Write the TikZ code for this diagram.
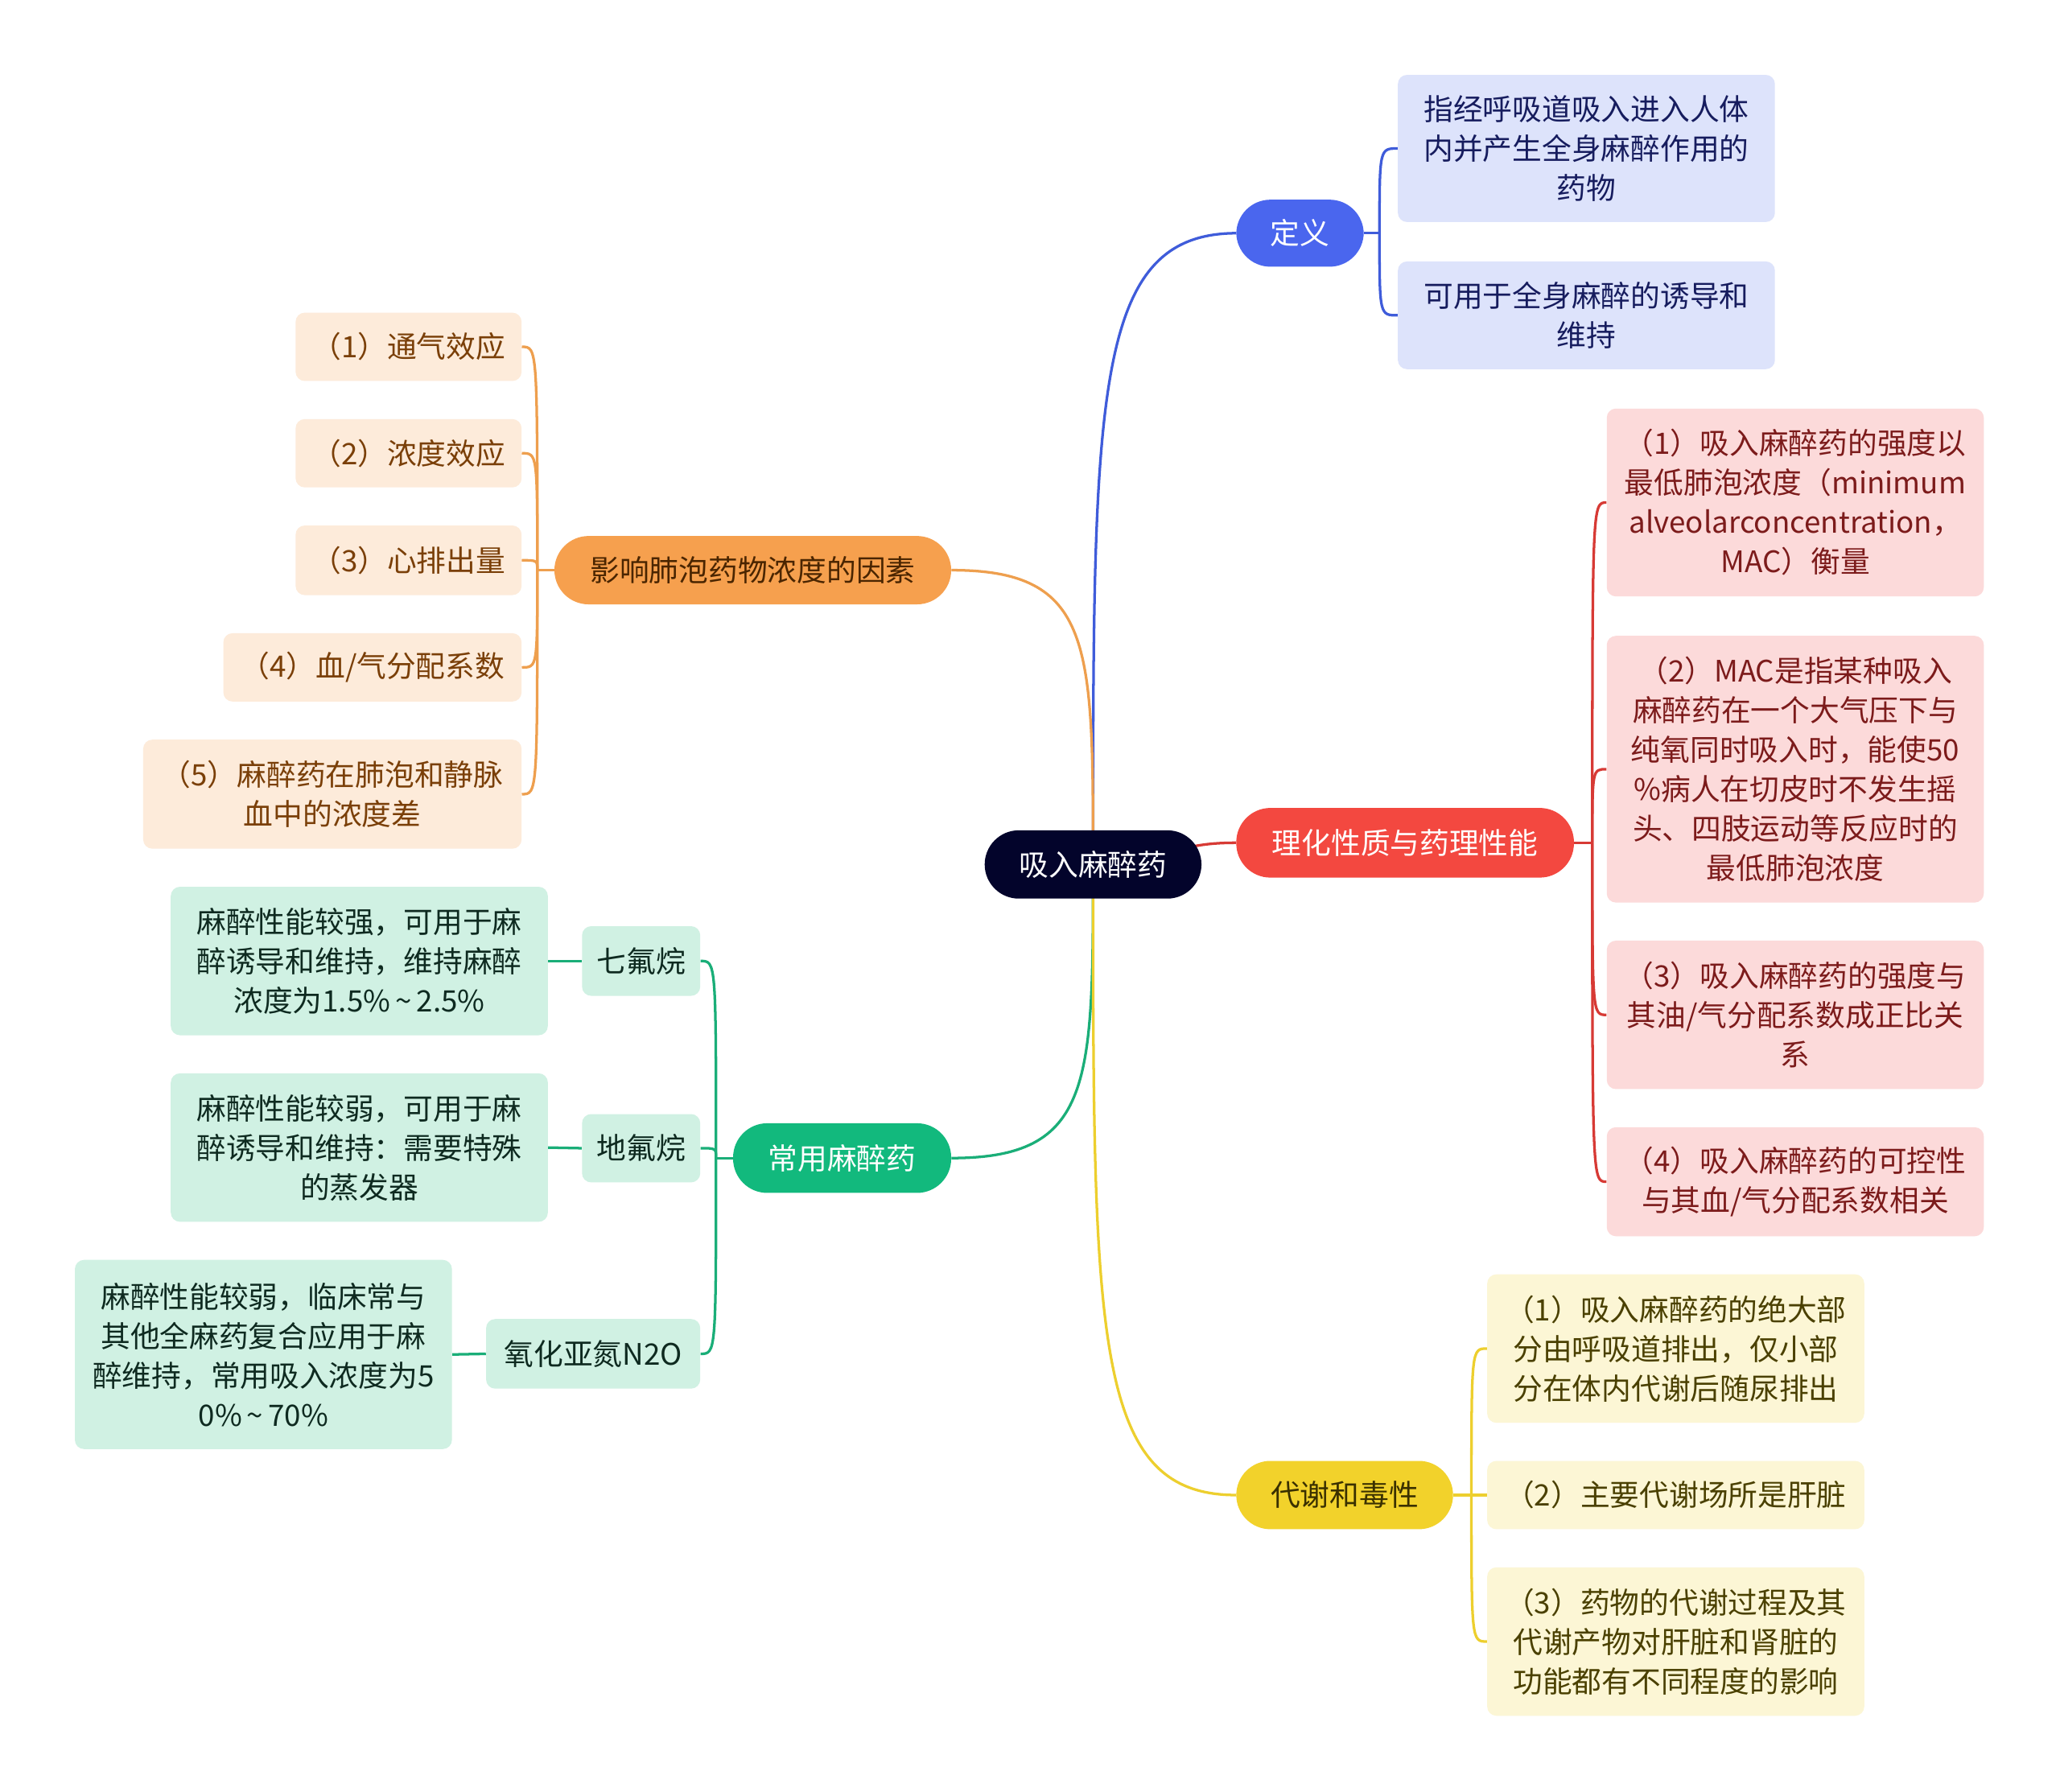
\documentclass[tikz,border=0pt]{standalone}
\usepackage{fontspec}
\setmainfont{Noto Sans CJK SC}
\usetikzlibrary{backgrounds}
\definecolor{rootc}{HTML}{03042B}
\definecolor{bluec}{HTML}{4A66EE}
\definecolor{bluel}{HTML}{3F5CDA}
\definecolor{bluef}{HTML}{DDE3FB}
\definecolor{bluet}{HTML}{161C5E}
\definecolor{redc}{HTML}{F34840}
\definecolor{redl}{HTML}{D73A35}
\definecolor{redf}{HTML}{FCDADA}
\definecolor{redt}{HTML}{7C1B1B}
\definecolor{orac}{HTML}{F6A04E}
\definecolor{oral}{HTML}{EE9F4E}
\definecolor{oraf}{HTML}{FDEBDA}
\definecolor{orat}{HTML}{7A3F08}
\definecolor{oranode}{HTML}{4A2500}
\definecolor{grec}{HTML}{12B97D}
\definecolor{grel}{HTML}{1AAE78}
\definecolor{gref}{HTML}{D0F1E3}
\definecolor{gret}{HTML}{0E2A20}
\definecolor{yelc}{HTML}{F2D22B}
\definecolor{yell}{HTML}{EDCF2E}
\definecolor{yelf}{HTML}{FCF6D5}
\definecolor{yelt}{HTML}{4A4000}
\definecolor{yelnode}{HTML}{3A3000}
\begin{document}
\begin{tikzpicture}[x=1pt,y=-1pt,
  font=\fontsize{22.5}{30}\selectfont,
  base/.style={inner sep=0pt, align=center, anchor=center},
  mainn/.style={base, rounded corners=26pt},
  leaf/.style={base, rounded corners=7pt},
  conn/.style={line width=2pt}]
\useasboundingbox (0,0) rectangle (1568,1364);

% root
\node[mainn, fill=rootc, text=white, minimum width=165pt, minimum height=52pt] (root) at (832,658) {吸入麻醉药};

% definition branch
\node[mainn, fill=bluec, text=white, minimum width=97pt, minimum height=51pt] (dy) at (989.5,177.5) {定义};
\node[leaf, fill=bluef, text=bluet, minimum width=287pt, minimum height=112pt] (d1) at (1207.5,113) {指经呼吸道吸入进入人体\\内并产生全身麻醉作用的\\药物};
\node[leaf, fill=bluef, text=bluet, minimum width=287pt, minimum height=82pt] (d2) at (1207.5,240) {可用于全身麻醉的诱导和\\维持};

% red branch
\node[mainn, fill=redc, text=white, minimum width=257pt, minimum height=53pt] (lh) at (1069.5,641.5) {理化性质与药理性能};
\node[leaf, fill=redf, text=redt, minimum width=287pt, minimum height=143pt] (r1) at (1366.5,382.5) {（1）吸入麻醉药的强度以\\最低肺泡浓度（minimum\\alveolarconcentration，\\MAC）衡量};
\node[leaf, fill=redf, text=redt, minimum width=287pt, minimum height=203pt] (r2) at (1366.5,585.5) {（2）MAC是指某种吸入\\麻醉药在一个大气压下与\\纯氧同时吸入时，能使50\\\%病人在切皮时不发生摇\\头、四肢运动等反应时的\\最低肺泡浓度};
\node[leaf, fill=redf, text=redt, minimum width=287pt, minimum height=113pt] (r3) at (1366.5,772.5) {（3）吸入麻醉药的强度与\\其油/气分配系数成正比关\\系};
\node[leaf, fill=redf, text=redt, minimum width=287pt, minimum height=83pt] (r4) at (1366.5,899.5) {（4）吸入麻醉药的可控性\\与其血/气分配系数相关};

% orange branch
\node[mainn, fill=orac, text=oranode, minimum width=302pt, minimum height=52pt] (yx) at (573,434) {影响肺泡药物浓度的因素};
\node[leaf, fill=oraf, text=orat, minimum width=172pt, minimum height=52pt] (o1) at (311,264) {（1）通气效应};
\node[leaf, fill=oraf, text=orat, minimum width=172pt, minimum height=52pt] (o2) at (311,345) {（2）浓度效应};
\node[leaf, fill=oraf, text=orat, minimum width=172pt, minimum height=53pt] (o3) at (311,426.5) {（3）心排出量};
\node[leaf, fill=oraf, text=orat, minimum width=227pt, minimum height=52pt] (o4) at (283.5,508) {（4）血/气分配系数};
\node[leaf, fill=oraf, text=orat, minimum width=288pt, minimum height=83pt] (o5) at (253,604.5) {（5）麻醉药在肺泡和静脉\\血中的浓度差};

% green branch
\node[mainn, fill=grec, text=white, minimum width=166pt, minimum height=53pt] (cy) at (641,881.5) {常用麻醉药};
\node[leaf, fill=gref, text=gret, minimum width=90pt, minimum height=53pt] (g1) at (488,731.5) {七氟烷};
\node[leaf, fill=gref, text=gret, minimum width=90pt, minimum height=52pt] (g2) at (488,874) {地氟烷};
\node[leaf, fill=gref, text=gret, minimum width=163pt, minimum height=53pt] (g3) at (451.5,1030.5) {氧化亚氮N2O};
\node[leaf, fill=gref, text=gret, minimum width=287pt, minimum height=113pt] (gg1) at (273.5,731.5) {麻醉性能较强，可用于麻\\醉诱导和维持，维持麻醉\\浓度为1.5\%\,\textasciitilde\,2.5\%};
\node[leaf, fill=gref, text=gret, minimum width=287pt, minimum height=113pt] (gg2) at (273.5,873.5) {麻醉性能较弱，可用于麻\\醉诱导和维持：需要特殊\\的蒸发器};
\node[leaf, fill=gref, text=gret, minimum width=287pt, minimum height=144pt] (gg3) at (200.5,1031) {麻醉性能较弱，临床常与\\其他全麻药复合应用于麻\\醉维持，常用吸入浓度为5\\0\%\,\textasciitilde\,70\%};

% yellow branch
\node[mainn, fill=yelc, text=yelnode, minimum width=165pt, minimum height=52pt] (ds) at (1023.5,1138) {代谢和毒性};
\node[leaf, fill=yelf, text=yelt, minimum width=287pt, minimum height=113pt] (y1) at (1275.5,1026.5) {（1）吸入麻醉药的绝大部\\分由呼吸道排出，仅小部\\分在体内代谢后随尿排出};
\node[leaf, fill=yelf, text=yelt, minimum width=287pt, minimum height=52pt] (y2) at (1275.5,1138) {（2）主要代谢场所是肝脏};
\node[leaf, fill=yelf, text=yelt, minimum width=287pt, minimum height=113pt] (y3) at (1275.5,1249.5) {（3）药物的代谢过程及其\\代谢产物对肝脏和肾脏的\\功能都有不同程度的影响};

\begin{scope}[on background layer]
\fill[white] (0,0) rectangle (1568,1364);
% main connectors
\draw[conn, bluel] (root.center) .. controls (832,300) and (832,178) .. (dy.west);
\draw[conn, oral] (root.center) .. controls (832,490) and (832,434) .. (yx.east);
\draw[conn, redl] (root.center) .. controls (900,650) and (900,641.5) .. (lh.west);
\draw[conn, grel] (root.center) .. controls (832,825) and (832,881.5) .. (cy.east);
\draw[conn, yell] (root.center) .. controls (832,1018) and (832,1138) .. (ds.west);

% definition brackets
\coordinate (jd) at (1050,177.5);
\draw[conn, bluel] (dy.east) -- (jd);
\draw[conn, bluel] (jd) .. controls (1050,113) and (1050,113) .. (d1.west);
\draw[conn, bluel] (jd) .. controls (1050,240) and (1050,240) .. (d2.west);

% red brackets
\coordinate (jr) at (1212,641.5);
\draw[conn, redl] (lh.east) -- (jr);
\draw[conn, redl] (jr) .. controls (1212,382.5) and (1212,382.5) .. (r1.west);
\draw[conn, redl] (jr) .. controls (1212,585.5) and (1212,585.5) .. (r2.west);
\draw[conn, redl] (jr) .. controls (1212,772.5) and (1212,772.5) .. (r3.west);
\draw[conn, redl] (jr) .. controls (1212,899.5) and (1212,899.5) .. (r4.west);

% orange brackets
\coordinate (jo) at (409,434);
\draw[conn, oral] (yx.west) -- (jo);
\draw[conn, oral] (jo) .. controls (409,264) and (409,264) .. (o1.east);
\draw[conn, oral] (jo) .. controls (409,345) and (409,345) .. (o2.east);
\draw[conn, oral] (jo) .. controls (409,426.5) and (409,426.5) .. (o3.east);
\draw[conn, oral] (jo) .. controls (409,508) and (409,508) .. (o4.east);
\draw[conn, oral] (jo) .. controls (409,604.5) and (409,604.5) .. (o5.east);

% green brackets
\coordinate (jg) at (545,881.5);
\draw[conn, grel] (cy.west) -- (jg);
\draw[conn, grel] (jg) .. controls (545,731.5) and (545,731.5) .. (g1.east);
\draw[conn, grel] (jg) .. controls (545,874) and (545,874) .. (g2.east);
\draw[conn, grel] (jg) .. controls (545,1030.5) and (545,1030.5) .. (g3.east);
\draw[conn, grel] (g1.west) -- (gg1.east);
\draw[conn, grel] (g2.west) -- (gg2.east);
\draw[conn, grel] (g3.west) -- (gg3.east);

% yellow brackets
\coordinate (jy) at (1120,1138);
\draw[conn, yell] (ds.east) -- (jy);
\draw[conn, yell] (jy) .. controls (1120,1026.5) and (1120,1026.5) .. (y1.west);
\draw[conn, yell] (jy) -- (y2.west);
\draw[conn, yell] (jy) .. controls (1120,1249.5) and (1120,1249.5) .. (y3.west);
\end{scope}
\end{tikzpicture}
\end{document}
